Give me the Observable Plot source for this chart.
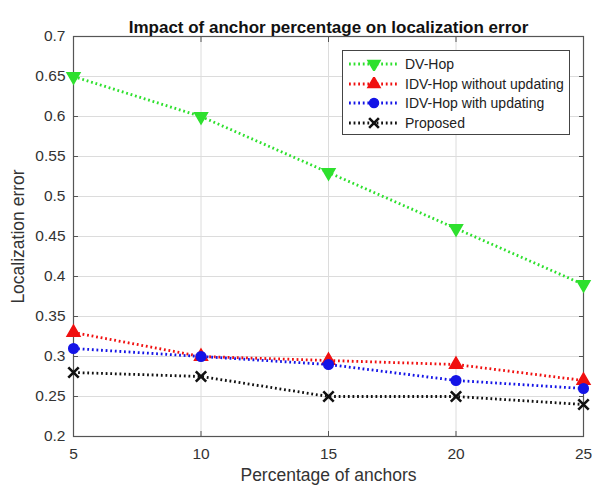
<!DOCTYPE html>
<html><head><meta charset="utf-8">
<script src="https://cdn.jsdelivr.net/npm/d3@7"></script>
<script src="https://cdn.jsdelivr.net/npm/@observablehq/plot@0.6"></script>
<style>
body{margin:0;background:#fff;font-family:"Liberation Sans",Arial,sans-serif;}
#wrap{position:relative;width:592px;height:486px;}
#legend{position:absolute;left:342px;top:50px;width:228px;height:85px;border:1px solid #444;background:#fff;box-sizing:border-box;padding:3px 0 0 4px;font-size:14px;color:#222;}
#legend div{display:flex;align-items:center;height:19.7px;}
#legend svg{margin-right:4px;}
</style></head>
<body><div id="wrap"><div id="legend"></div></div>
<script>
const anchors = [5, 10, 15, 20, 25];
const dvHop = [0.65, 0.60, 0.53, 0.46, 0.39];
const idvNoUpdate = [0.33, 0.30, 0.295, 0.29, 0.27];
const idvUpdate = [0.31, 0.30, 0.29, 0.27, 0.26];
const proposed = [0.28, 0.275, 0.25, 0.25, 0.24];
const xTicks = [5, 10, 15, 20, 25];
const yTicks = [0.2, 0.25, 0.3, 0.35, 0.4, 0.45, 0.5, 0.55, 0.6, 0.65, 0.7];

const series = [
  {name: "DV-Hop", values: dvHop, color: "#2ee02e", symbol: "triangle", rotate: 180, fill: true},
  {name: "IDV-Hop without updating", values: idvNoUpdate, color: "#f01010", symbol: "triangle", rotate: 0, fill: true},
  {name: "IDV-Hop with updating", values: idvUpdate, color: "#1414e6", symbol: "circle", rotate: 0, fill: true},
  {name: "Proposed", values: proposed, color: "#111111", symbol: "times", rotate: 0, fill: false}
];
const dash = "1.8,2.8";
const font = "'Liberation Sans', Arial, sans-serif";

const marks = [
  Plot.gridX(xTicks, {stroke: "#dcdcdc", strokeOpacity: 1}),
  Plot.gridY(yTicks, {stroke: "#dcdcdc", strokeOpacity: 1}),
  // inward tick marks on all four sides (MATLAB style)
  Plot.axisX(xTicks, {anchor: "top", tickSize: 5, dy: 5, text: null, label: null, stroke: "#555"}),
  Plot.axisX(xTicks, {anchor: "bottom", tickSize: 5, dy: -5, text: null, label: null, stroke: "#555"}),
  Plot.axisY(yTicks, {anchor: "left", tickSize: 5, dx: 5, text: null, label: null, stroke: "#555"}),
  Plot.axisY(yTicks, {anchor: "right", tickSize: 5, dx: -5, text: null, label: null, stroke: "#555"}),
  // tick labels and axis titles
  Plot.axisX(xTicks, {anchor: "bottom", tickSize: 0, tickPadding: 11, tickFormat: d => String(d), fontSize: 15.5, fill: "#333",
    label: "Percentage of anchors", labelAnchor: "center", labelArrow: "none", labelOffset: 44}),
  Plot.axisY(yTicks, {anchor: "left", tickSize: 0, tickPadding: 8, tickFormat: d => String(+d.toFixed(2)), fontSize: 15.5, fill: "#333",
    label: "Localization error", labelAnchor: "center", labelArrow: "none", labelOffset: 62}),
  Plot.frame({stroke: "#555", strokeWidth: 1.2}),
  Plot.text(["Impact of anchor percentage on localization error"], {frameAnchor: "top", dy: -16, fontWeight: "bold", fontSize: 17, fill: "#111"})
];
for (const s of series) {
  const d = anchors.map((a, i) => ({x: a, y: s.values[i]}));
  marks.push(Plot.line(d, {x: "x", y: "y", stroke: s.color, strokeWidth: 2.8, strokeDasharray: dash}));
  marks.push(Plot.dot(d, {x: "x", y: "y", symbol: () => s.symbol, r: 4.8, rotate: s.rotate,
    stroke: s.color, strokeWidth: s.fill ? 1.5 : 2.6, fill: s.fill ? s.color : "none"}));
}

const chart = Plot.plot({
  width: 592, height: 486,
  marginLeft: 73, marginRight: 9, marginTop: 36, marginBottom: 50,
  style: {fontFamily: font, fontSize: "15px", color: "#333"},
  x: {domain: [5, 25]},
  y: {domain: [0.2, 0.7]},
  symbol: {type: "identity"},
  marks
});
chart.querySelectorAll('[aria-label="x-axis label"] text, [aria-label="y-axis label"] text').forEach(t => t.style.fontSize = "17.5px");
chart.querySelectorAll('g[aria-label="line"] path').forEach(p => { p.setAttribute("stroke-dasharray", dash); p.setAttribute("stroke-linecap", "butt"); });
document.getElementById("wrap").prepend(chart);

const leg = document.getElementById("legend");
const symPath = {triangle: d3.symbol(d3.symbolTriangle, 64)(), circle: d3.symbol(d3.symbolCircle, 64)(), times: d3.symbol(d3.symbolTimes, 64)()};
for (const s of series) {
  const row = document.createElement("div");
  row.innerHTML = `<svg width="54" height="14"><line x1="2" x2="52" y1="7" y2="7" stroke="${s.color}" stroke-width="2.8" stroke-dasharray="${dash}"/>
  <path d="${symPath[s.symbol]}" transform="translate(27,7) rotate(${s.rotate})" fill="${s.fill ? s.color : "none"}" stroke="${s.color}" stroke-width="${s.fill ? 1.5 : 2.6}"/></svg><span>${s.name}</span>`;
  leg.appendChild(row);
}
</script></body></html>
